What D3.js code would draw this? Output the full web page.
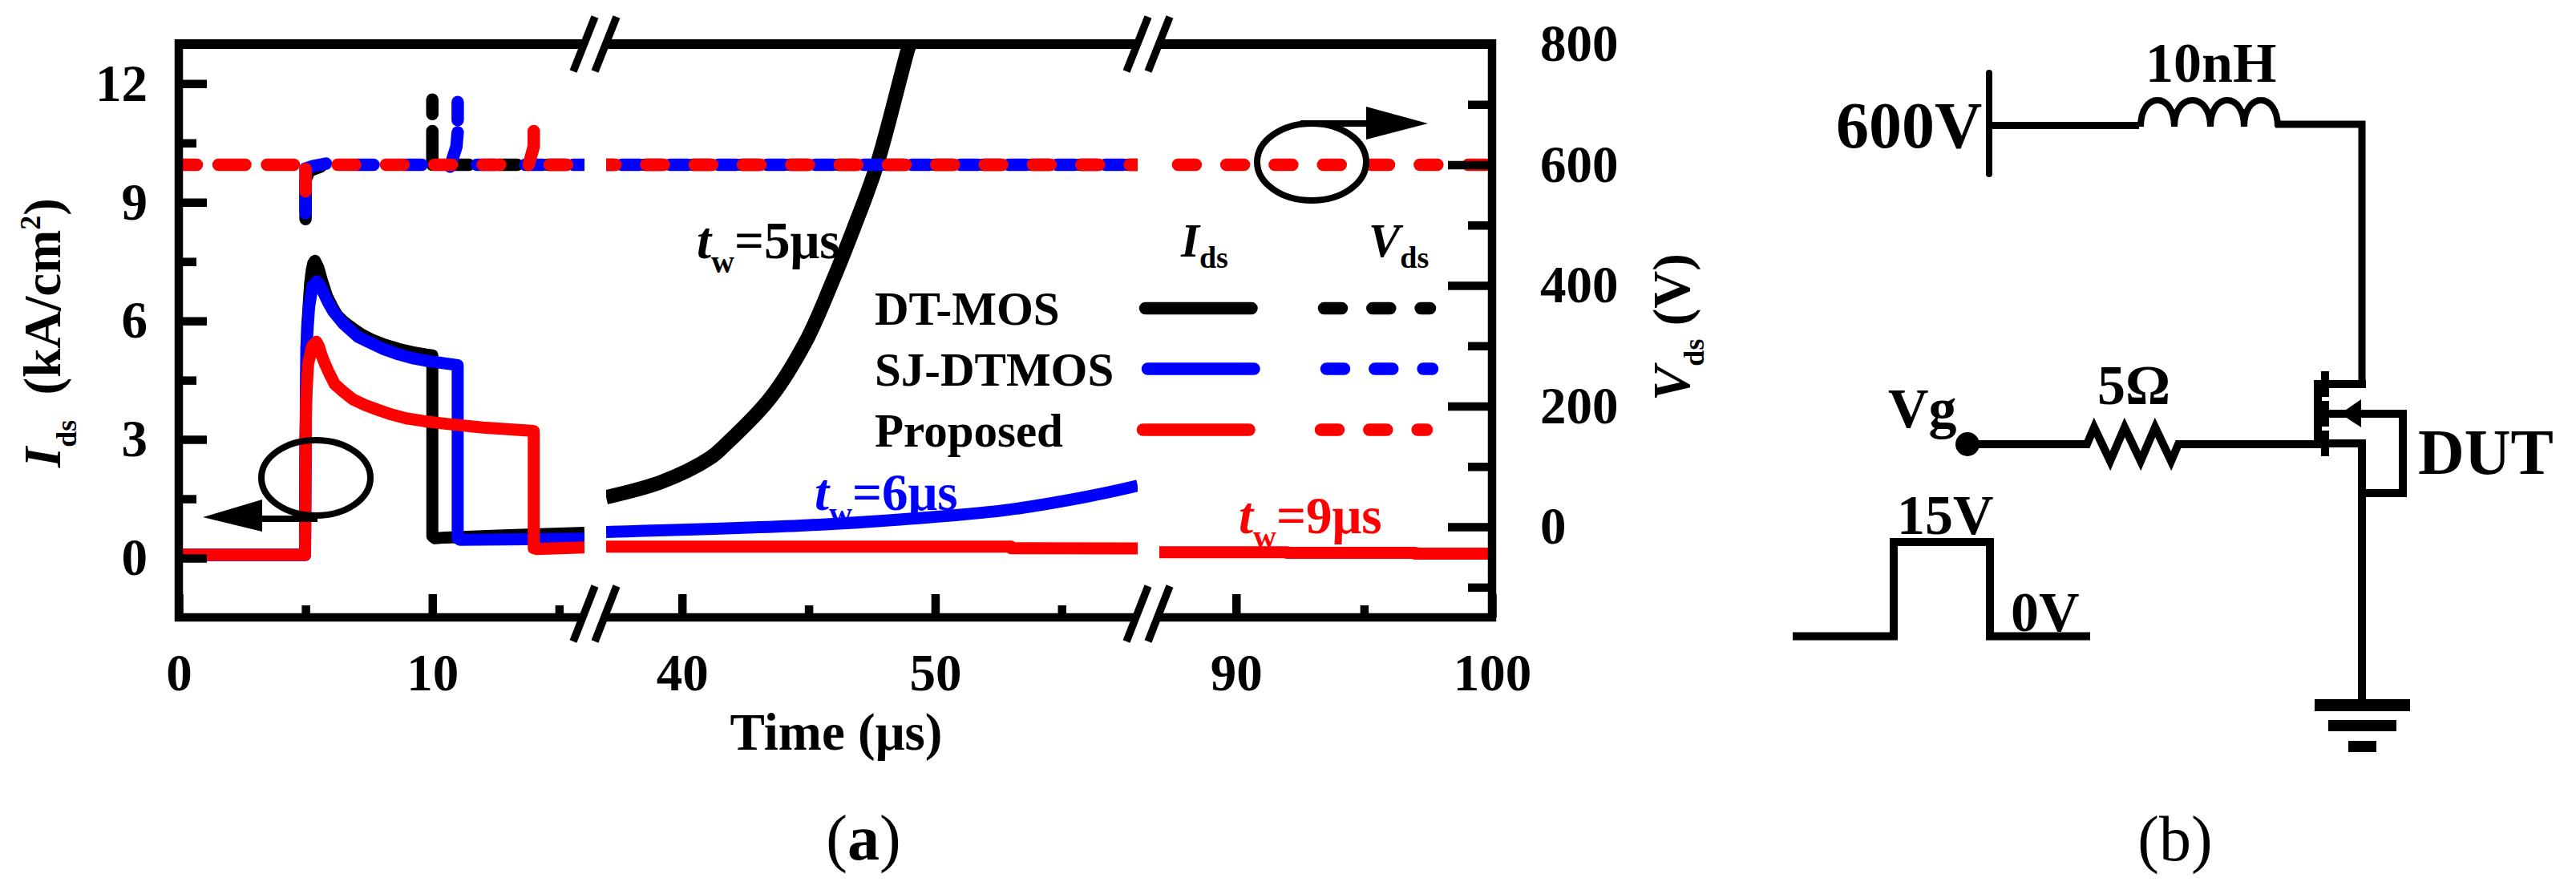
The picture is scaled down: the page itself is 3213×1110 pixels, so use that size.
<!DOCTYPE html>
<html>
<head>
<meta charset="utf-8">
<script src="https://cdn.jsdelivr.net/npm/d3@7"></script>
<style>
  html, body { margin: 0; padding: 0; background: #fff; }
  text { font-family: "Liberation Serif", serif; font-weight: bold; fill: #000; }
  .tick text { font-size: 65px; }
  .tick line { stroke: #000; stroke-width: 10.5px; }
</style>
</head>
<body>
<svg id="chart" width="3213" height="1110"></svg>
<script>
//
// Data
//

// Broken time axis: the stretches 16-37 and 58-87 are left out
const timeDomain = [0, 16, 37, 58, 87, 100];
const timeMajor = [0, 10, 40, 50, 90, 100];
const timeMinor = [5, 15, 45, 55, 95];
const idsMajor = [0, 3, 6, 9, 12];
const idsMinor = [1.5, 4.5, 7.5, 10.5];
const vdsMajor = [0, 200, 400, 600, 800];
const vdsMinor = [-100, 100, 300, 500, 700];

// Ids curves, [time us, kA/cm2]
const idsBlack = [
  [0, 0.08], [4.98, 0.08], [5, 3], [5.06, 5.8], [5.18, 6.95], [5.24, 7.26], [5.3, 7.45], [5.37, 7.52],
  [5.5, 7.35], [5.64, 7.03], [5.84, 6.63], [6.05, 6.36], [6.25, 6.14], [6.5, 5.98], [6.84, 5.82],
  [7.2, 5.66], [7.6, 5.53], [8.1, 5.4], [8.68, 5.29], [9.2, 5.21], [9.75, 5.15], [10, 5.13],
  [10, 0.55], [10.1, 0.5], [10.5, 0.52], [13, 0.58], [16, 0.64],
];
const idsBlackRise = [
  [37, 1.54], [39.2, 1.93], [41.1, 2.53], [41.7, 2.86], [43.5, 4.06],
  [44.9, 5.49], [45.9, 6.93], [46.8, 8.37], [47.7, 9.95], [48.93, 12.88], [49, 13],
];
const idsBlue = [
  [0, 0.08], [4.98, 0.08], [5, 3], [5.03, 5.33], [5.14, 6.35], [5.27, 6.87], [5.43, 7], [5.55, 6.92],
  [5.68, 6.75], [5.88, 6.48], [6.09, 6.24], [6.47, 5.94], [7.06, 5.6], [7.6, 5.43], [8.1, 5.28],
  [8.68, 5.15], [9.2, 5.06], [9.75, 4.99], [11, 4.88],
  [11, 0.5], [11.1, 0.46], [13, 0.47], [16, 0.49],
];
const idsBlueRise = [
  [37, 0.66], [44.67, 0.82], [48.7, 0.98], [52.74, 1.21], [55.8, 1.53], [58, 1.83],
];
const idsRed = [
  [0, 0.08], [4.98, 0.08], [5, 2.5], [5.02, 4], [5.1, 4.9], [5.25, 5.35], [5.43, 5.47], [5.53, 5.35],
  [5.62, 5.15], [5.76, 4.92], [5.9, 4.72], [6.15, 4.4], [6.5, 4.2], [6.88, 4.01], [7.35, 3.87],
  [7.85, 3.75], [8.4, 3.63], [9, 3.53], [9.8, 3.45], [10.63, 3.39], [12, 3.3], [13.9, 3.22], [14, 3.21],
  [14, 0.25], [14.1, 0.23], [16, 0.27],
  [37, 0.29], [53, 0.29], [53, 0.25], [58, 0.245],
  [87, 0.15], [92, 0.15], [92, 0.13], [97, 0.13], [97, 0.11], [100, 0.11],
];

// Vds traces, [time us, V], one list for each stretch that has its own dash phase
const vdsBlack = [
  [[5, 510], [5, 575], [5.15, 590], [5.6, 597]],
  [[10, 600], [10, 656]],
  [[10, 684], [10, 708]],
  [[10, 600], [58, 600]],
];
const vdsBlue = [
  [[5, 520], [5, 594], [5.3, 598], [5.8, 602]],
  [[5.8, 600], [10.7, 600]],
  [[10.7, 597], [10.95, 630], [11, 654]],
  [[11, 674], [11, 704]],
  [[11, 600], [58, 600]],
];
const vdsRed = [
  [[0, 600], [5, 600]],
  [[5, 593], [5, 556]],
  [[5.2, 600], [13.8, 600]],
  [[13.8, 600], [14, 630], [14, 656]],
  [[14, 600], [100, 600]],
];

// Legend and figure labels
const seriesNames = ["DT-MOS", "SJ-DTMOS", "Proposed"];
const pulseWidths = ["5", "6", "9"];

//
// Layout
//

const colors = ["#000000", "#0000ff", "#ff0000"];
const lineWidth = 15;
const vdsWidth = 15.5;
const riseWidth = 18;
const dashOn = 22;
const dashOff = 38.3;

// [dash on, dash off, dash offset] per stretch, null = solid stretch
const dashBlack = [null, null, null, [dashOn, dashOff, 36.8]];
const dashBlue = [null, [dashOn, dashOff, 22.8], null, null, [dashOn, dashOff, 36.5]];
const dashRed = [[33.5, 27, 11], null, [dashOn, dashOff, 26.7], null, [dashOn, dashOff, 40.6]];

const x = d3.scaleLinear().domain(timeDomain).range([223, 729, 756, 1419, 1446, 1861]);
const yIds = d3.scaleLinear().domain([-1.5, 13]).range([770, 55]);
const yVds = d3.scaleLinear().domain([-150, 800]).range([770, 55]);

const svg = d3.select("#chart");

// The three visible stretches of the time axis
const stretches = [[0, 16], [37, 58], [87, 100]];
svg.append("defs").append("clipPath").attr("id", "plot-clip")
  .selectAll("rect")
  .data(stretches)
  .enter()
  .append("rect")
  .attr("x", (d) => x(d[0]))
  .attr("y", 0)
  .attr("width", (d) => x(d[1]) - x(d[0]))
  .attr("height", 800);

const plot = svg.append("g").attr("clip-path", "url(#plot-clip)");

function mkpath(points, yScale, curve) {
  return d3.line().curve(curve || d3.curveLinear).x((d) => x(d[0])).y((d) => yScale(d[1]))(points);
}

// Ids goes under Vds
function drawids(points, color, width, curve) {
  plot.append("path")
    .attr("d", mkpath(points, yIds, curve))
    .attr("fill", "none")
    .attr("stroke", color)
    .attr("stroke-width", width)
    .attr("stroke-linejoin", "round");
}
drawids(idsBlack, colors[0], lineWidth);
drawids(idsBlackRise, colors[0], riseWidth, d3.curveCatmullRom);
drawids(idsBlue, colors[1], lineWidth);
drawids(idsBlueRise, colors[1], lineWidth, d3.curveCatmullRom);
drawids(idsRed, colors[2], lineWidth);

[vdsBlack, vdsBlue, vdsRed].forEach((runs, i) => {
  const dashes = [dashBlack, dashBlue, dashRed][i];
  runs.forEach((run, j) => {
    const p = plot.append("path")
      .attr("d", mkpath(run, yVds))
      .attr("fill", "none")
      .attr("stroke", colors[i])
      .attr("stroke-width", vdsWidth)
      .attr("stroke-linejoin", "round")
      .attr("stroke-linecap", "round");
    if (dashes[j]) {
      p.attr("stroke-dasharray", dashes[j][0] + " " + dashes[j][1])
        .attr("stroke-dashoffset", dashes[j][2]);
    }
  });
});

//
// Axes
//

function cleanaxis(g) {
  g.select(".domain").remove();
  g.selectAll("text").attr("font-family", null);
}

svg.append("g").attr("transform", "translate(0,770)")
  .call(d3.axisBottom(x).tickValues(timeMajor).tickSizeInner(-29).tickSizeOuter(0).tickPadding(45))
  .call(cleanaxis);
svg.append("g").attr("transform", "translate(0,770)")
  .call(d3.axisBottom(x).tickValues(timeMinor).tickSizeInner(-15).tickSizeOuter(0).tickFormat(""))
  .call(cleanaxis);
svg.append("g").attr("transform", "translate(223,0)")
  .call(d3.axisLeft(yIds).tickValues(idsMajor).tickSizeInner(-35).tickSizeOuter(0).tickPadding(39))
  .call(cleanaxis);
svg.append("g").attr("transform", "translate(223,0)")
  .call(d3.axisLeft(yIds).tickValues(idsMinor).tickSizeInner(-22).tickSizeOuter(0).tickFormat(""))
  .call(cleanaxis);
svg.append("g").attr("transform", "translate(1861,0)")
  .call(d3.axisRight(yVds).tickValues(vdsMajor).tickSizeInner(-55).tickSizeOuter(0).tickPadding(60))
  .call(cleanaxis);
svg.append("g").attr("transform", "translate(1861,0)")
  .call(d3.axisRight(yVds).tickValues(vdsMinor).tickSizeInner(-30).tickSizeOuter(0).tickFormat(""))
  .call(cleanaxis);

// Frame, open at the axis breaks
function seg(x1, y1, x2, y2, w, parent) {
  return (parent || svg).append("line")
    .attr("x1", x1).attr("y1", y1).attr("x2", x2).attr("y2", y2)
    .attr("stroke", "#000").attr("stroke-width", w);
}
stretches.forEach((s, i) => {
  const left = x(s[0]) - (i === 0 ? 5 : 0);
  const right = x(s[1]) + (i === 2 ? 5 : 0);
  seg(left, 55, right, 55, 12);
  seg(left, 770, right, 770, 10.5);
});
seg(223, 49, 223, 775, 10.5);
seg(1861, 49, 1861, 775, 10.5);

// Break marks
[16, 37, 58, 87].forEach((t) => {
  seg(x(t) - 14, 89, x(t) + 13, 21, 9.5);
  seg(x(t) - 14, 800, x(t) + 13, 731, 9.5);
});

//
// Text
//

// parts: [string, { italic, size, dy, dx, weight }]
function mktext(px, py, parts, opts) {
  opts = opts || {};
  const t = svg.append("text")
    .attr("font-size", opts.size || 65)
    .attr("text-anchor", opts.anchor || "start")
    .attr("transform", "translate(" + px + "," + py + ")" + (opts.rotate ? " rotate(" + opts.rotate + ")" : ""));
  if (opts.color) t.style("fill", opts.color);
  if (opts.weight) t.style("font-weight", opts.weight);
  parts.forEach((p) => {
    const s = t.append("tspan").text(p[0]);
    const o = p[1] || {};
    if (o.italic) s.attr("font-style", "italic");
    if (o.size) s.attr("font-size", o.size);
    if (o.dy) s.attr("dy", o.dy);
    if (o.dx) s.attr("dx", o.dx);
    if (o.weight) s.style("font-weight", o.weight);
  });
  return t;
}

mktext(1043, 935, [["Time (μs)"]], { anchor: "middle" });
mktext(75, 583, [
  ["I", { italic: true }], ["ds", { size: 36, dy: 20 }], [" (kA/cm", { dy: -20, dx: 15 }],
  ["2", { size: 36, dy: -25 }], [")", { dy: 25 }],
], { rotate: -90 });
mktext(2107, 500, [
  ["V", { italic: true }], ["ds", { size: 36, dy: 18 }], [" (V)", { dy: -18 }],
], { rotate: -90 });

// Pulse width labels
const pulsePos = [[869, 322], [1016, 636], [1545, 665]];
pulseWidths.forEach((w, i) => {
  mktext(pulsePos[i][0], pulsePos[i][1], [
    ["t", { italic: true }], ["w", { size: 40, dy: 18 }], ["=" + w + "μs", { dy: -18 }],
  ], { color: colors[i] });
});

// Legend
mktext(1473, 320, [["I", { italic: true }], ["ds", { size: 38, dy: 14 }]], { size: 59 });
mktext(1707, 320, [["V", { italic: true }], ["ds", { size: 38, dy: 14 }]], { size: 59 });
const legendY = [384.5, 460, 536];
const legendTextY = [405, 481, 557];
const legendLineX = [1421, 1424, 1418];
const legendDashX = [1651.5, 1654.5, 1647.5];
seriesNames.forEach((name, i) => {
  mktext(1091, legendTextY[i], [[name]], { size: 59 });
  seg(legendLineX[i] + 7.5, legendY[i], legendLineX[i] + 140, legendY[i], vdsWidth)
    .attr("stroke", colors[i]).attr("stroke-linecap", "round");
  seg(legendDashX[i], legendY[i], legendDashX[i] + 132, legendY[i], vdsWidth)
    .attr("stroke", colors[i]).attr("stroke-linecap", "round")
    .attr("stroke-dasharray", dashOn + " " + dashOff);
});

// Circles and arrows that point to the axes
function mkellipse(cx, cy, rx, ry) {
  svg.append("ellipse")
    .attr("cx", cx).attr("cy", cy).attr("rx", rx).attr("ry", ry)
    .attr("fill", "none").attr("stroke", "#000").attr("stroke-width", 8);
}
function mkpoly(points) {
  svg.append("polygon").attr("points", points.join(" ")).attr("fill", "#000");
}
mkellipse(1636, 202, 68, 48);
seg(1622, 154, 1706, 154, 8);
mkpoly([[1704, 133], [1781, 154], [1704, 174]]);
mkellipse(394, 596, 68, 47);
seg(325, 647, 396, 647, 8);
mkpoly([[327, 623], [253, 645], [327, 663]]);

//
// Circuit
//

const ink = svg.append("g");
function wire(points, w) {
  ink.append("path")
    .attr("d", d3.line()(points))
    .attr("fill", "none")
    .attr("stroke", "#000")
    .attr("stroke-width", w || 9);
}
function block(x1, y1, x2, y2, fill) {
  ink.append("rect")
    .attr("x", x1).attr("y", y1).attr("width", x2 - x1).attr("height", y2 - y1)
    .attr("fill", fill || "#000");
}

// Supply and inductor
ink.append("line")
  .attr("x1", 2481).attr("y1", 91).attr("x2", 2481).attr("y2", 217)
  .attr("stroke", "#000").attr("stroke-width", 8).attr("stroke-linecap", "round");
wire([[2481, 156.5], [2668, 156.5]]);
ink.append("path")
  .attr("d", "M2670,158 C2670,114 2712,114 2712,158 C2712,114 2757,114 2757,158 C2757,114 2799,114 2799,158 C2799,114 2841,114 2841,158")
  .attr("fill", "none").attr("stroke", "#000").attr("stroke-width", 8);
wire([[2838, 155], [2946, 155], [2946, 484]]);

// MOSFET
block(2886, 474, 2895, 558);
block(2895, 463, 2905, 569);
block(2896, 495, 2905, 500, "#fff");
block(2896, 532, 2905, 537, "#fff");
wire([[2905, 479], [2951, 479]], 10);
wire([[2905, 516], [2997, 516], [2997, 615], [2946, 615]], 10);
ink.append("polygon").attr("points", "2919,516 2945,498 2945,533").attr("fill", "#000");
wire([[2905, 553], [2946, 553], [2946, 872]], 10);

// Gate drive
ink.append("circle").attr("cx", 2454).attr("cy", 554).attr("r", 15).attr("fill", "#000");
wire([[2454, 554], [2603, 554], [2612, 533], [2632, 575], [2650, 533], [2670, 575], [2688, 533], [2708, 575], [2717, 554], [2895, 554]], 10);

// Pulse
wire([[2236, 793.5], [2362, 793.5], [2362, 676], [2482, 676], [2482, 793.5], [2607, 793.5]], 10);

// Ground
block(2887, 872, 3006, 887);
block(2904, 898, 2989, 912);
block(2929, 924, 2964, 938);

mktext(2290, 184, [["600V"]], { size: 82 });
mktext(2676, 102, [["10nH"]], { size: 70 });
mktext(2616, 504, [["5Ω"]], { size: 70 });
mktext(2355, 533, [["Vg"]], { size: 70 });
mktext(3016, 591, [["DUT"]], { size: 80 });
mktext(2366, 666, [["15V"]], { size: 70 });
mktext(2508, 787, [["0V"]], { size: 70 });

mktext(1077, 1072, [["("], ["a", { weight: "bold" }], [")"]], { size: 80, anchor: "middle", weight: "normal" });
mktext(2713, 1073, [["(b)"]], { size: 80, anchor: "middle", weight: "normal" });
</script>
</body>
</html>
